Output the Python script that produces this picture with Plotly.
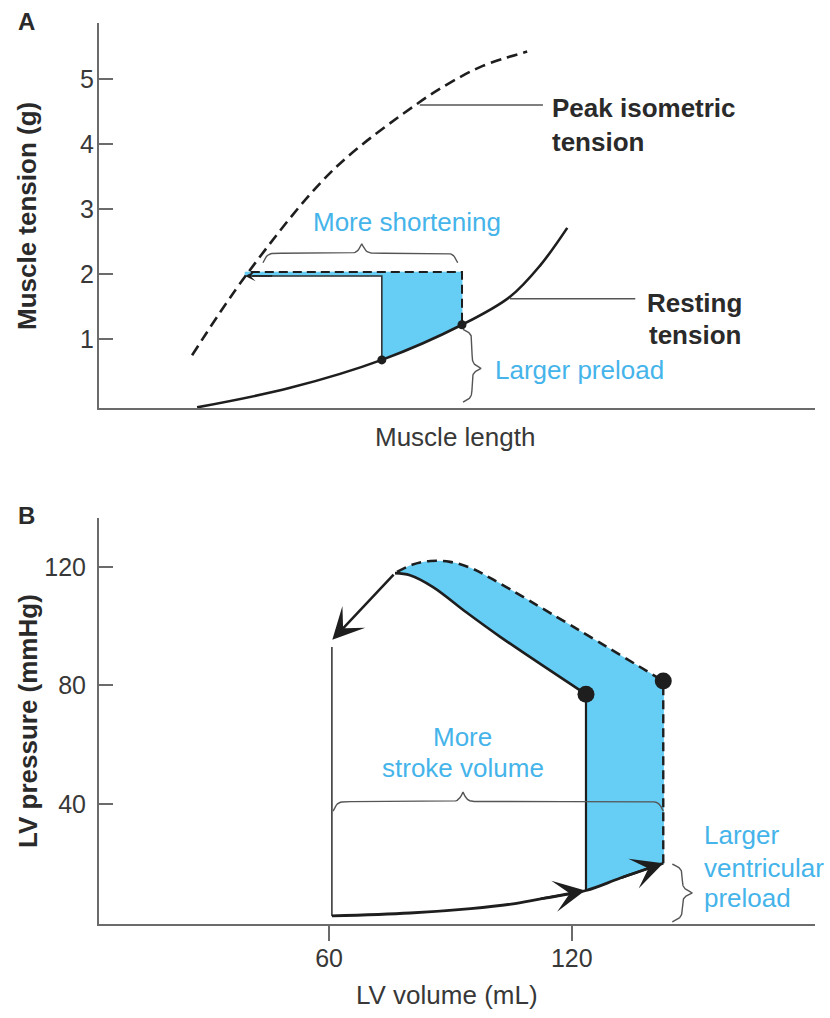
import numpy as np
import plotly.graph_objects as go

# ---------------- Panel A data (muscle length, arbitrary units / tension, g) ----------------
rest_len = [13.7, 26.7, 39.5, 50.7, 57.4, 61.6, 65.4]
rest_ten = [-0.05, 0.25, 0.68, 1.22, 1.65, 2.13, 2.71]
peak_len = [13.0, 20.8, 32.7, 44.6, 49.0, 53.6, 59.8]
peak_ten = [0.75, 2.02, 3.60, 4.63, 4.94, 5.20, 5.42]
preload_len = [39.5, 50.7]      # normal / larger preload
preload_ten = [0.68, 1.22]
afterload_ten = 1.97            # afterloaded contraction level
afterload_top = 2.03            # larger-preload contraction level
shortened_len = 20.4            # length reached on peak isometric curve
a_ticks = [1, 2, 3, 4, 5]

# ---------------- Panel B data (LV volume, mL / LV pressure, mmHg) ----------------
fill_v = [60.7, 80, 95, 105, 112, 123.5, 132, 142.6]
fill_p = [2.2, 3.2, 4.7, 6.2, 7.9, 10.8, 15.0, 20.0]
eject_v = [76.3, 80.0, 85.7, 94.1, 102.3, 123.5]          # normal loop (solid)
eject_p = [117.9, 117.2, 113.2, 104.5, 96.4, 77.0]
eject2_v = [76.8, 80.5, 85.0, 89.9, 94.9, 99.8, 142.6]    # larger preload (dashed)
eject2_p = [118.3, 120.7, 122.0, 121.7, 119.7, 116.3, 81.5]
edv = [123.5, 142.6]
edp = [10.8, 20.0]
esp = [77.0, 81.5]
esv = 60.7
relax_top = 93.0
relax_tip = [60.8, 95.4]
b_xticks = [60, 120]
b_yticks = [40, 80, 120]

# ---------------- styling / layout ----------------
W, H = 830, 1018
FONT = "Liberation Sans, Arial, Helvetica, sans-serif"
BLUE_FILL = "#66CDF4"
BLUE_TEXT = "#45B4EA"
DARK = "#1e1e1e"
AXC = "#6b6b6b"
TXT = "#383838"
FS = 26

AX_L, AX_R = 99, 815
A_TOP, A_BOT = 23, 408
B_TOP, B_BOT = 518, 923.5
xa_range = [0, 100]
ya_range = [-0.06, 5.86]
xb_range = [3.14, 180.1]
yb_range = [-0.34, 136.5]

sxA = (AX_R - AX_L) / (xa_range[1] - xa_range[0])
syA = (A_BOT - A_TOP) / (ya_range[1] - ya_range[0])
sxB = (AX_R - AX_L) / (xb_range[1] - xb_range[0])
syB = (B_BOT - B_TOP) / (yb_range[1] - yb_range[0])


def hbrace(x0, x1, xt, y, depth_px, sx, sy, k=0.45):
    xl = np.linspace(x0, xt, 90)
    rl = 1 / (1 + np.exp(-k * (xl - x0) * sx)) + 1 / (1 + np.exp(k * (xt - xl) * sx))
    xr = np.linspace(xt, x1, 90)
    rr = 1 / (1 + np.exp(-k * (x1 - xr) * sx)) + 1 / (1 + np.exp(k * (xr - xt) * sx))
    xs = np.concatenate([xl, xr])
    r = np.concatenate([rl, rr])
    return xs, y + (r - 1) * 2 * depth_px / sy


def vbrace(y0, y1, yt, x, depth_px, sx, sy, k=0.45):
    yl = np.linspace(y0, yt, 90)
    rl = 1 / (1 + np.exp(-k * (yl - y0) * sy)) + 1 / (1 + np.exp(k * (yt - yl) * sy))
    yr = np.linspace(yt, y1, 90)
    rr = 1 / (1 + np.exp(-k * (y1 - yr) * sy)) + 1 / (1 + np.exp(k * (yr - yt) * sy))
    ys = np.concatenate([yl, yr])
    r = np.concatenate([rl, rr])
    return x + (r - 1) * 2 * depth_px / sx, ys


fig = go.Figure()


def add(x, y, xa="x", ya="y", **kw):
    fig.add_trace(go.Scatter(x=x, y=y, xaxis=xa, yaxis=ya, hoverinfo="skip",
                             showlegend=False, **kw))


# ================= Panel A =================
# blue region
add([preload_len[0], preload_len[1], preload_len[1], shortened_len, shortened_len, preload_len[0], preload_len[0]],
    [preload_ten[0], preload_ten[1], afterload_top, afterload_top, afterload_ten, afterload_ten, preload_ten[0]],
    mode="lines", fill="toself", fillcolor=BLUE_FILL, line=dict(width=0.8, color=BLUE_FILL))
# peak isometric (dashed)
add(peak_len, peak_ten, mode="lines", line=dict(color=DARK, width=2.6, dash="11px,6px", shape="spline", smoothing=1.0))
# resting tension
add(rest_len, rest_ten, mode="lines", line=dict(color=DARK, width=2.6, shape="spline", smoothing=1.0))
# normal contraction path: up then shortening
add([preload_len[0], preload_len[0], shortened_len + 1.0],
    [preload_ten[0], afterload_ten, afterload_ten], mode="lines", line=dict(color="#333", width=1.6))
# larger preload contraction (dashed)
add([shortened_len + 0.8, preload_len[1], preload_len[1]],
    [afterload_top, afterload_top, preload_ten[1]], mode="lines",
    line=dict(color=DARK, width=2, dash="9px,5px"))
# dots
add(preload_len, preload_ten, mode="markers", marker=dict(size=9, color=DARK))
# leader lines
add([44.8, 62.0], [4.60, 4.60], mode="lines", line=dict(color="#555", width=1.5))
add([57.4, 74.9], [1.62, 1.62], mode="lines", line=dict(color="#555", width=1.5))
# braces
bx, by = hbrace(shortened_len + 2.5, preload_len[1] - 0.6, 36.7, 2.32, 9.5, sxA, syA)
add(bx, by, mode="lines", line=dict(color="#555", width=1.4))
bx, by = vbrace(0.03, preload_ten[1] - 0.07, 0.55, 52.1, 9, sxA, syA)
add(bx, by, mode="lines", line=dict(color="#555", width=1.4))

# ================= Panel B =================
# blue band between normal and larger ejection curves
add(eject_v, eject_p, xa="x2", ya="y2", mode="lines", line=dict(width=0, shape="spline"))
add(eject2_v, eject2_p, xa="x2", ya="y2", mode="lines", fill="tonexty", fillcolor=BLUE_FILL,
    line=dict(width=0, shape="spline"))
# blue region between the two end-diastolic volumes
add([edv[0], edv[1], edv[1], fill_v[6], edv[0], edv[0]],
    [esp[0], esp[1], edp[1], fill_p[6], edp[0], esp[0]],
    xa="x2", ya="y2", mode="lines", fill="toself", fillcolor=BLUE_FILL,
    line=dict(width=1.2, color=BLUE_FILL))
# isovolumic relaxation (thin)
add([esv, esv], [relax_top, fill_p[0]], xa="x2", ya="y2", mode="lines", line=dict(color="#3a3a3a", width=1.6))
# filling curve
add(fill_v, fill_p, xa="x2", ya="y2", mode="lines", line=dict(color=DARK, width=2.8, shape="spline"))
# isovolumic contraction (normal)
add([edv[0], edv[0]], [edp[0], esp[0]], xa="x2", ya="y2", mode="lines", line=dict(color=DARK, width=2.2))
# isovolumic contraction (larger, dashed)
add([edv[1], edv[1]], [edp[1], esp[1]], xa="x2", ya="y2", mode="lines",
    line=dict(color=DARK, width=2.4, dash="9px,5px"))
# ejection curves
add(eject_v, eject_p, xa="x2", ya="y2", mode="lines", line=dict(color=DARK, width=2.6, shape="spline"))
add(eject2_v, eject2_p, xa="x2", ya="y2", mode="lines",
    line=dict(color=DARK, width=2.6, dash="10px,6px", shape="spline"))
# dots
add(edv, esp, xa="x2", ya="y2", mode="markers", marker=dict(size=17, color=DARK))
# braces
bx, by = hbrace(esv + 0.3, edv[1], 93.1, 40.8, 9.5, sxB, syB)
add(bx, by, xa="x2", ya="y2", mode="lines", line=dict(color="#555", width=1.4))
bx, by = vbrace(0.2, edp[1] - 0.3, 10.0, 147.3, 10, sxB, syB)
add(bx, by, xa="x2", ya="y2", mode="lines", line=dict(color="#555", width=1.4))

# ================= annotations =================
ann = []


def txt(text, x, y, xref="x", yref="y", color=TXT, size=FS, xanchor="center", yanchor="middle", angle=0):
    ann.append(dict(text=text, x=x, y=y, xref=xref, yref=yref, showarrow=False,
                    font=dict(family=FONT, size=size, color=color),
                    xanchor=xanchor, yanchor=yanchor, textangle=angle))


def arrow(tip, tail, xref, yref, width, size):
    ann.append(dict(text="", x=tip[0], y=tip[1], ax=tail[0], ay=tail[1], xref=xref, yref=yref,
                    axref=xref, ayref=yref, showarrow=True, arrowhead=3, arrowwidth=width,
                    arrowsize=size, arrowcolor=DARK, standoff=0, startstandoff=0))


# panel A texts
txt("More shortening", 43.0, 2.80, color=BLUE_TEXT)
txt("<b>Peak isometric</b>", 63.0, 4.55, color="#2a2a2a", xanchor="left")
txt("<b>tension</b>", 63.0, 4.03, color="#2a2a2a", xanchor="left")
txt("<b>Resting</b>", 76.3, 1.55, color="#2a2a2a", xanchor="left")
txt("<b>tension</b>", 76.5, 1.06, color="#2a2a2a", xanchor="left")
txt("Larger preload", 55.0, 0.52, color=BLUE_TEXT, xanchor="left")
arrow([shortened_len, afterload_ten], [shortened_len + 4, afterload_ten], "x", "y", 1.6, 1.1)

# panel B texts
txt("More", 93.1, 62.6, "x2", "y2", color=BLUE_TEXT)
txt("stroke volume", 93.1, 52.0, "x2", "y2", color=BLUE_TEXT)
txt("Larger", 152.2, 29.5, "x2", "y2", color=BLUE_TEXT, xanchor="left")
txt("ventricular", 152.2, 18.4, "x2", "y2", color=BLUE_TEXT, xanchor="left")
txt("preload", 152.2, 8.3, "x2", "y2", color=BLUE_TEXT, xanchor="left")
arrow(relax_tip, [eject_v[0], eject_p[0]], "x2", "y2", 2.5, 2.1)
arrow([fill_v[5] - 0.2, fill_p[5]], [fill_v[4], fill_p[4]], "x2", "y2", 2.5, 2.1)
arrow([fill_v[7], fill_p[7]], [fill_v[6], fill_p[6]], "x2", "y2", 2.5, 2.1)

# panel letters & axis titles (paper coords)
txt("<b>A</b>", 26 / W, 1 - 22 / H, "paper", "paper", color="#2a2a2a", size=24)
txt("<b>B</b>", 26 / W, 1 - 515 / H, "paper", "paper", color="#2a2a2a", size=24)
txt("<b>Muscle tension (g)</b>", 27 / W, 1 - 216 / H, "paper", "paper", color="#2a2a2a", angle=-90)
txt("Muscle length", 455 / W, 1 - 437 / H, "paper", "paper", color=TXT)
txt("<b>LV pressure (mmHg)</b>", 28 / W, 1 - 721 / H, "paper", "paper", color="#2a2a2a", angle=-90)
txt("LV volume (mL)", 447 / W, 1 - 995 / H, "paper", "paper", color=TXT)

axis_common = dict(showgrid=False, zeroline=False, showline=True, linecolor=AXC, linewidth=2,
                   tickfont=dict(family=FONT, size=25, color=TXT))

fig.update_layout(
    width=W, height=H, margin=dict(l=0, r=0, t=0, b=0),
    paper_bgcolor="white", plot_bgcolor="white", showlegend=False,
    font=dict(family=FONT),
    annotations=ann,
    xaxis=dict(domain=[AX_L / W, AX_R / W], range=xa_range, anchor="y",
               showticklabels=False, ticks="", **axis_common),
    yaxis=dict(domain=[1 - A_BOT / H, 1 - A_TOP / H], range=ya_range, anchor="x",
               tickvals=a_ticks, ticks="inside", ticklen=14, tickwidth=2, tickcolor=AXC,
               ticklabelstandoff=-2, **axis_common),
    xaxis2=dict(domain=[AX_L / W, AX_R / W], range=xb_range, anchor="y2",
                tickvals=b_xticks, ticks="outside", ticklen=15, tickwidth=2, tickcolor=AXC,
                ticklabelstandoff=-4, **axis_common),
    yaxis2=dict(domain=[1 - B_BOT / H, 1 - B_TOP / H], range=yb_range, anchor="x2",
                tickvals=b_yticks, ticks="inside", ticklen=14, tickwidth=2, tickcolor=AXC,
                ticklabelstandoff=6, **axis_common),
)

fig.write_html("out.html")
